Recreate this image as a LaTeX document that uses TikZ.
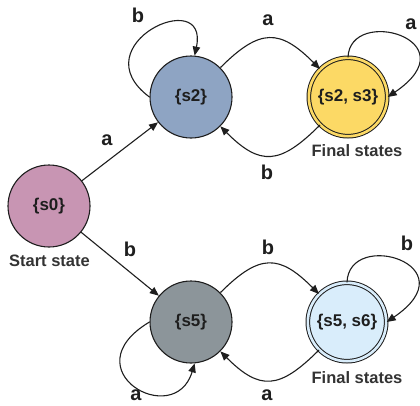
\documentclass[tikz,border=0pt]{standalone}
\usepackage{fontspec}
\setmainfont{Liberation Sans}
\usetikzlibrary{arrows.meta}
\definecolor{sOc}{HTML}{C895B3}
\definecolor{sTc}{HTML}{8EA4C3}
\definecolor{sTTc}{HTML}{FCD965}
\definecolor{sFc}{HTML}{8C959A}
\definecolor{sFFc}{HTML}{D9EDFB}
\definecolor{ink}{HTML}{1E1E1E}
\begin{document}
\begin{tikzpicture}[x=1pt,y=1pt,
  state/.style={circle, draw=ink, line width=1.1pt, minimum size=82pt, inner sep=0pt,
    font=\fontsize{17}{20}\selectfont\bfseries, text=ink},
  final/.style={state, fill=#1, double=#1, double distance=2.6pt, line width=1pt, minimum size=78.4pt},
  tr/.style={draw=ink, line width=1.1pt, -{Triangle[length=9pt,width=7.5pt]}},
  lab/.style={font=\fontsize{20}{24}\selectfont\bfseries, inner sep=0pt, text=ink},
  capt/.style={font=\fontsize{16.5}{20}\selectfont\bfseries, inner sep=0pt, text=black!80}]
\useasboundingbox (0,0) rectangle (420,-405);

\node[state, fill=sOc] (s0) at (49,-206) {\{s0\}};
\node[state, fill=sTc] (s2) at (191,-97) {\{s2\}};
\node[final=sTTc] (s23) at (348,-97) {\{s2, s3\}};
\node[state, fill=sFc] (s5) at (191,-322) {\{s5\}};
\node[final=sFFc] (s56) at (347,-322) {\{s5, s6\}};

\node[capt] (cs) at (49.5,-261) {Start state};
\node[capt] (cf1) at (357,-151) {Final states};
\node[capt] (cf2) at (357,-378) {Final states};

\draw[tr] (s0) -- (s2);
\draw[tr] (s0) -- (s5);
\draw[tr] (s2) to[out=45,in=135,looseness=1.45] (s23);
\draw[tr] (s23) to[out=-135,in=-45,looseness=1.45] (s2);
\draw[tr] (s5) to[out=45,in=135,looseness=1.45] (s56);
\draw[tr] (s56) to[out=-135,in=-45,looseness=1.45] (s5);

\draw[tr] (s2.west) .. controls +(-70,52) and +(15,71) .. (s2.85);
\draw[tr] (s23.north) .. controls +(2,52) and +(84,57) .. (s23.east);
\draw[tr] (s56.north) .. controls +(2,54) and +(84,57) .. (s56.east);
\draw[tr] (s5.west) .. controls +(-80,-48) and +(-20,-67) .. (s5.-85);

\node[lab] (l1) at (107,-140) {a};
\node[lab] (l2) at (130,-249) {b};
\node[lab] (l3) at (268,-20) {a};
\node[lab] (l4) at (267,-172) {b};
\node[lab] (l5) at (268,-247) {b};
\node[lab] (l6) at (267,-395) {a};
\node[lab] (l7) at (138,-15) {b};
\node[lab] (l8) at (411,-24) {a};
\node[lab] (l9) at (407,-243) {b};
\node[lab] (l10) at (136,-395) {a};
\end{tikzpicture}
\end{document}
